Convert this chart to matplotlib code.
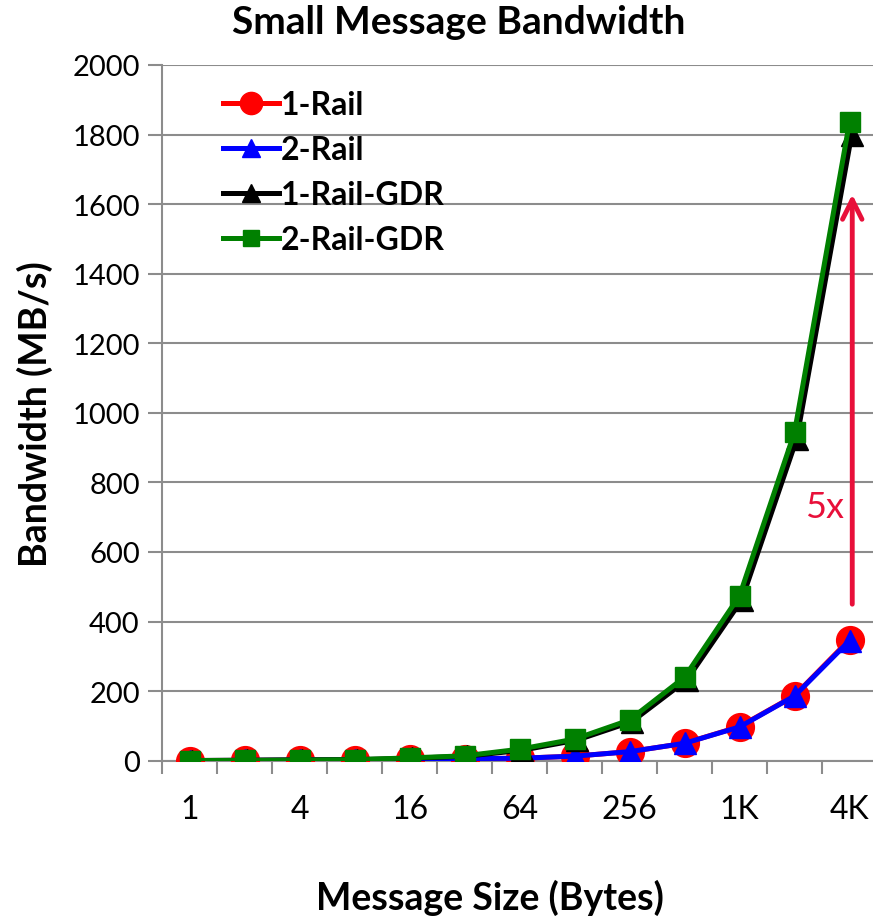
import numpy as np
import matplotlib.pyplot as plt
from matplotlib.ticker import FixedLocator

plt.rcParams['font.family'] = ['Lato', 'DejaVu Sans']

# message sizes (bytes), one category per power of two
sizes = [1, 2, 4, 8, 16, 32, 64, 128, 256, 512, 1024, 2048, 4096]
tick_labels = ["1", "4", "16", "64", "256", "1K", "4K"]

# bandwidth (MB/s)
one_rail = [0.5, 1, 2, 3, 4, 6, 7, 13, 26, 50, 98, 187, 348]
two_rail = [0.5, 1, 2, 3, 4, 6, 7, 13, 26, 50, 97, 186, 345]
one_rail_gdr = [0.5, 1, 2, 3, 7, 13, 30, 59, 112, 232, 462, 925, 1800]
two_rail_gdr = [0.5, 1, 2, 3, 8, 14, 33, 62, 117, 240, 474, 944, 1836]

arrow_from = 450
arrow_to = 1628

x = np.arange(len(sizes))

fig = plt.figure(figsize=(8.73, 9.2), dpi=100)
ax = fig.add_axes([162/873, 158.3/920, 715/873, 695.7/920])

ax.plot(x, one_rail, color='red', lw=3.6, marker='o', ms=20, label='1-Rail', zorder=3)
ax.plot(x, two_rail, color='blue', lw=3.6, marker='^', ms=16, label='2-Rail', zorder=4)
ax.plot(x + 0.04, one_rail_gdr, color='black', lw=3.6, marker='^', ms=16, label='1-Rail-GDR', zorder=5)
ax.plot(x, two_rail_gdr, color='green', lw=3.6, marker='s', ms=15, label='2-Rail-GDR', zorder=6)

# 5x annotation
ax.annotate('', xy=(12.05, arrow_to), xytext=(12.05, arrow_from),
            arrowprops=dict(arrowstyle='->', color='#e8103a', lw=3.5,
                            mutation_scale=35, shrinkA=0, shrinkB=0), zorder=7)
ax.text(11.55, 732, '5x', color='#e8103a', fontsize=26, ha='center', va='center')

ax.set_xlim(-0.5, 12.5)
ax.set_ylim(0, 2000)
ax.set_yticks(np.arange(0, 2001, 200))
ax.yaxis.grid(True, color='#8c8c8c', lw=1.5)
ax.set_axisbelow(True)

ax.xaxis.set_major_locator(FixedLocator(np.arange(-0.5, 12.6, 1)))
ax.xaxis.set_minor_locator(FixedLocator(np.arange(0, 13, 2)))
ax.xaxis.set_major_formatter(plt.NullFormatter())
ax.xaxis.set_minor_formatter(plt.FixedFormatter(tick_labels))
ax.tick_params(axis='x', which='major', length=9, width=1.5, color='#8c8c8c')
ax.tick_params(axis='x', which='minor', length=0, pad=24, labelsize=23)
ax.tick_params(axis='y', length=10, width=1.5, color='#8c8c8c', labelsize=21, pad=6)

for s in ['top', 'right']:
    ax.spines[s].set_visible(False)
for s in ['left', 'bottom']:
    ax.spines[s].set_color('#8c8c8c')
    ax.spines[s].set_linewidth(1.5)

fig.text(459/873, 1 - 22/920, 'Small Message Bandwidth', fontsize=28,
         fontweight='bold', ha='center', va='center')
fig.text(490/873, 1 - 898/920, 'Message Size (Bytes)', fontsize=27,
         fontweight='bold', ha='center', va='center')
ax.set_ylabel('Bandwidth (MB/s)', fontsize=27, fontweight='bold', labelpad=14)

leg = ax.legend(loc='upper left', bbox_to_anchor=(0.045, 1.005), frameon=False,
                prop={'weight': 'bold', 'size': 23}, handlelength=1.75,
                handletextpad=0.05, labelspacing=0.5, markerscale=0.8)

fig.savefig('out.png', dpi=100)
